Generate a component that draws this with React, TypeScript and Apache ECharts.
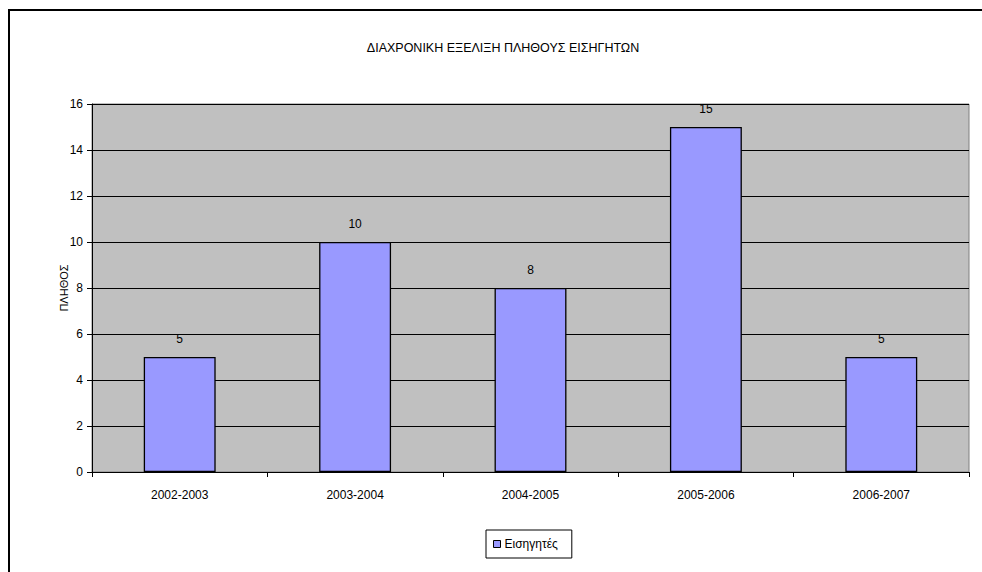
import React, { useEffect, useRef } from "react";
import * as echarts from "echarts";

const categories = ["2002-2003", "2003-2004", "2004-2005", "2005-2006", "2006-2007"];
const values = [5, 10, 8, 15, 5];
const seriesName = "Εισηγητές";
const titleText = "ΔΙΑΧΡΟΝΙΚΗ ΕΞΕΛΙΞΗ ΠΛΗΘΟΥΣ ΕΙΣΗΓΗΤΩΝ";
const yAxisName = "ΠΛΗΘΟΣ";

const FONT = "'Liberation Sans', Arial, sans-serif";
const FS = 12;

export default function App() {
  const ref = useRef<HTMLDivElement>(null);
  useEffect(() => {
    if (!ref.current) return;
    const chart = echarts.init(ref.current, null, { renderer: "svg" });
    chart.setOption({
      animation: false,
      backgroundColor: "#ffffff",
      textStyle: { fontFamily: FONT },
      title: {
        text: titleText,
        left: 498,
        top: 36,
        textAlign: "center",
        textStyle: { fontSize: 12.5, fontWeight: "normal", color: "#000", fontFamily: FONT },
      },
      legend: {
        data: [seriesName],
        left: 486,
        top: 530,
        orient: "horizontal",
        borderColor: "#000",
        borderWidth: 1,
        padding: [8, 14, 8, 7],
        itemWidth: 7,
        itemHeight: 7,
        itemGap: 5,
        icon: "rect",
        itemStyle: { borderColor: "#000", borderWidth: 1 },
        textStyle: { fontSize: FS, color: "#000", fontFamily: FONT, padding: [0, 0, 0, -1] },
      },
      grid: {
        left: 92,
        top: 104,
        right: 13,
        bottom: 100,
        show: true,
        backgroundColor: "#c0c0c0",
        borderColor: "#808080",
        borderWidth: 1,
      },
      graphic: [
        {
          type: "rect",
          shape: { x: 9, y: 10, width: 1000, height: 600 },
          style: { fill: "none", stroke: "#000", lineWidth: 2 },
          silent: true,
          z: 100,
        },
      ],
      xAxis: {
        type: "category",
        data: categories,
        boundaryGap: true,
        axisLine: { show: true, lineStyle: { color: "#000", width: 1 } },
        axisTick: { show: true, alignWithLabel: false, length: 5, lineStyle: { color: "#000" } },
        axisLabel: { color: "#000", fontSize: FS, margin: 17, fontFamily: FONT },
        splitLine: { show: false },
      },
      yAxis: {
        type: "value",
        min: 0,
        max: 16,
        interval: 2,
        name: yAxisName,
        nameLocation: "middle",
        nameGap: 23,
        nameMoveOverlap: false,
        nameRotate: 90,
        nameTextStyle: { color: "#000", fontSize: 11, fontFamily: FONT },
        axisLine: { show: true, lineStyle: { color: "#000", width: 1 } },
        axisTick: { show: true, length: 5, lineStyle: { color: "#000" } },
        axisLabel: { color: "#000", fontSize: FS, margin: 9, fontFamily: FONT },
        splitLine: { show: true, lineStyle: { color: "#000", width: 1 } },
      },
      series: [
        {
          name: seriesName,
          type: "bar",
          data: values,
          barWidth: "41%",
          itemStyle: { color: "#9999ff", borderColor: "#000", borderWidth: 1.3 },
          label: {
            show: true,
            position: "top",
            distance: 12,
            color: "#000",
            fontSize: FS,
            fontFamily: FONT,
          },
        },
      ],
    });
    return () => chart.dispose();
  }, []);
  return <div ref={ref} style={{ width: 982, height: 572, position: "absolute", left: 0, top: 0 }} />;
}
